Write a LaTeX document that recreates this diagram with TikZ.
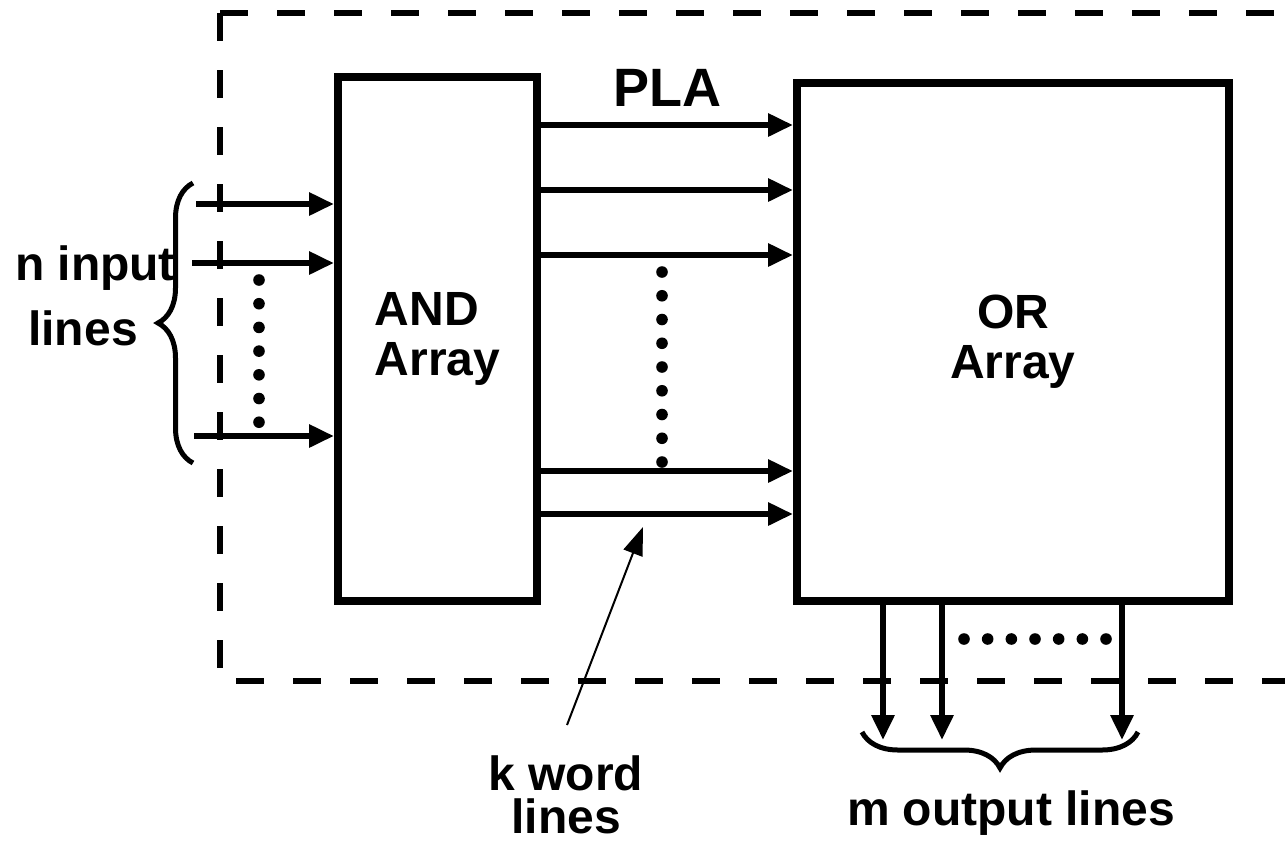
\documentclass[tikz,border=0pt]{standalone}
\usepackage{fontspec}
\setmainfont{Liberation Sans}
\usetikzlibrary{arrows.meta,positioning,calc,decorations.pathreplacing}

\begin{document}
\begin{tikzpicture}[
    x=0.5pt, y=-0.5pt,
    blk/.style={draw,line width=4pt},
    wire/.style={line width=3pt,-{Triangle[length=12.5pt,width=11pt]}},
    ptr/.style={line width=1pt,-{Triangle[length=14pt,width=10pt]}},
    frame/.style={line width=2.7pt,dash pattern=on 14pt off 14.5pt},
    brc/.style={decorate,decoration={brace,amplitude=17.5pt},line width=2.5pt},
    dot/.style={circle,fill,inner sep=0pt,minimum size=5.8pt},
    lbl/.style={font=\fontsize{24}{25}\selectfont\bfseries,inner sep=0pt},
  ]
  \useasboundingbox (0,0) rectangle (1285,842);
  \clip (0,0) rectangle (1285,842);

  % dashed PLA boundary, runs off the right edge
  \draw[frame] (220,13) -- (1320,13);
  \draw[frame] (220,13) -- (220,681) -- (1320,681);

  % the two arrays
  \node[blk,lbl,align=left,minimum width=99.5pt,minimum height=262pt] (and) at (437.5,339) {AND\\Array};
  \node[blk,lbl,align=center,minimum width=216pt,minimum height=259pt] (or) at (1013,342) {OR\\Array};
  \node[lbl,font=\fontsize{27}{30}\selectfont\bfseries,anchor=base] (pla) at (667,106) {PLA};

  % input lines
  \foreach \x/\y [count=\i] in {196/204,192/263,194/436} {
    \coordinate (in\i) at (\x,\y);
    \draw[wire] (in\i) -- (in\i -| and.west);
  }
  \foreach \k in {0,...,6}
    \node[dot] (ld\k) at (259,280+23.7*\k) {};
  \draw[brc] (193,463) -- (193,183);
  \node[lbl,anchor=base] (nin) at (95,280) {n input};
  \node[lbl,anchor=base] (nlines) at (83,345) {lines};

  % word lines
  \foreach \y [count=\i] in {125,190,255,471,514} {
    \coordinate (r\i) at (0,\y);
    \draw[wire] (and.east |- r\i) -- (or.west |- r\i);
  }
  \foreach \k in {0,...,8}
    \node[dot] (md\k) at (662,272+23.75*\k) {};
  \coordinate (ktail) at (567,725);
  \coordinate (ktip) at (643,527);
  \draw[ptr] (ktail) -- (ktip);
  \node[lbl,font=\fontsize{24}{21.5}\selectfont\bfseries,align=center,anchor=north] (kword) at (566,755) {k word\\lines};

  % output lines
  \foreach \x [count=\i] in {883,942,1122} {
    \coordinate (o\i) at (\x,740);
    \draw[wire] (or.south -| o\i) -- (o\i);
  }
  \foreach \k in {0,...,6}
    \node[dot] (bd\k) at (964+23.67*\k,639) {};
  \draw[brc,decoration={amplitude=18pt}] (1138,732) -- (862,732);
  \node[lbl,anchor=base] (mout) at (1011,825) {m output lines};

\end{tikzpicture}
\end{document}
